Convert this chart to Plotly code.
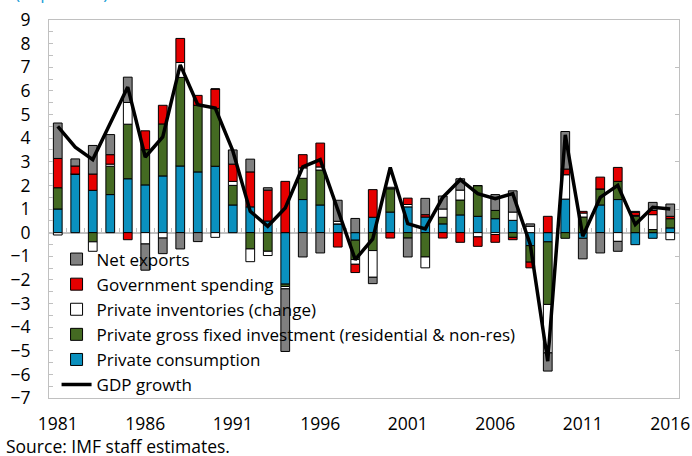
import plotly.graph_objects as go

years = list(range(1981, 2017))

private_consumption = [1.0, 2.48, 1.79, 1.61, 2.28, 2.02, 2.40, 2.82, 2.57, 2.81, 1.17, 1.09, 0.49, -2.18, 1.40, 1.17, 0.37, -0.32,
                       0.65, 0.87, 1.09, 0.66, 0.37, 0.75, 0.69, 0.59, 0.52, -0.55, -0.39, 1.42, -0.24, 1.17, 1.40, -0.51, -0.24, 0.20]
fixed_investment = [0.9, 0.0, -0.39, 1.2, 2.31, 1.49, 2.2, 3.75, 2.82, 2.45, 0.83, -0.69, -0.79, -0.1, 0.9, 1.48, 0.0, -0.82,
                    -0.76, 0.99, -0.23, -1.03, 0.28, 0.63, 1.3, 0.35, -0.2, -0.7, -2.65, -0.24, 0.66, 0.68, 0.77, 0.69, 0.13, 0.39]
inventories = [-0.1, 0.0, -0.4, 0.09, 0.92, -0.48, -0.23, 0.63, 0.0, -0.2, 0.17, -0.54, -0.18, -0.1, 0.44, 0.13, 0.11, -0.2,
               -1.13, 0.0, 0.1, -0.46, 0.35, 0.42, -0.18, -0.08, 0.35, 0.27, -2.05, 1.03, 0.17, 0.0, -0.37, 0.04, 0.63, -0.3]
government = [1.24, 0.34, 0.69, 0.4, -0.3, 0.8, 0.79, 1.02, 0.42, 0.82, 0.73, 1.48, 1.31, 2.17, 0.56, 1.01, -0.61, -0.35,
              1.17, -0.23, 0.27, 0.1, -0.23, -0.41, -0.4, -0.33, -0.1, -0.24, 0.69, 0.24, 0.07, 0.5, 0.59, 0.13, 0.18, 0.1]
net_exports = [1.5, 0.3, 1.21, 0.85, 1.07, -1.11, -0.66, -0.69, -0.38, 0.0, 0.6, 0.54, 0.1, -2.65, -1.03, -0.86, 0.89, 0.6,
               -0.27, 0.06, -0.8, 0.69, 0.55, 0.48, 0.0, 0.67, 0.9, 0.1, -0.77, 1.59, -0.87, -0.86, -0.42, 0.04, 0.34, 0.52]
gdp_growth = [4.5, 3.62, 3.09, 4.6, 6.16, 3.2, 4.05, 7.1, 5.41, 5.27, 3.47, 0.9, 0.27, 1.04, 2.78, 3.09, 0.95, -1.14,
              -0.27, 2.76, 0.38, 0.16, 1.49, 2.24, 1.65, 1.44, 1.65, -0.5, -5.44, 4.14, -0.15, 1.49, 2.0, 0.34, 1.07, 1.0]

year_labels = [1981, 1986, 1991, 1996, 2001, 2006, 2011, 2016]

font = "Open Sans"
axis_grey = "#c0c0c0"

fig = go.Figure()
components = [
    ("Private consumption", private_consumption, "#0a90be", 5),
    ("Private gross fixed investment (residential & non-res)", fixed_investment, "#446a22", 4),
    ("Private inventories (change)", inventories, "#ffffff", 3),
    ("Government spending", government, "#e60000", 2),
    ("Net exports", net_exports, "#808080", 1),
]
for name, vals, color, rank in components:
    fig.add_trace(go.Bar(x=years, y=vals, name=name, marker=dict(color=color, line=dict(color="black", width=1)),
                         width=0.5, legendrank=rank))
fig.add_trace(go.Scatter(x=years, y=gdp_growth, mode="lines", name="GDP growth", line=dict(color="black", width=3.5),
                         legendrank=6))
# invisible helper trace so the zero-line axis and right tick axis get drawn
fig.add_trace(go.Scatter(x=years, y=gdp_growth, xaxis="x2", yaxis="y2", mode="lines", line=dict(width=0),
                         showlegend=False, hoverinfo="skip"))

fig.update_layout(
    width=692, height=456,
    margin=dict(l=49, r=13, t=20, b=58),
    barmode="relative",
    plot_bgcolor="white", paper_bgcolor="white",
    font=dict(family=font, size=17.5, color="black"),
    showlegend=True,
    legend=dict(x=0.012, y=0.414, xanchor="left", yanchor="top", bgcolor="rgba(0,0,0,0)",
                font=dict(size=17), tracegroupgap=0, itemwidth=30),
    xaxis=dict(range=[1980.5, 2016.5], tickvals=year_labels, ticks="", showline=True, linecolor=axis_grey,
               mirror=True, showgrid=False, zeroline=False, ticklabelstandoff=10, automargin=False),
    xaxis2=dict(overlaying="x", matches="x", anchor="free", position=7 / 16, side="bottom",
                tickvals=[y - 0.5 for y in years] + [2016.5], ticks="inside", ticklen=4, tickcolor=axis_grey,
                showline=True, linecolor=axis_grey, linewidth=1.5, showticklabels=False, showgrid=False,
                zeroline=False, layer="below traces", automargin=False),
    yaxis=dict(range=[-7, 9], dtick=1, ticks="inside", ticklen=4, tickcolor=axis_grey, showline=True,
               linecolor=axis_grey, mirror=True, showgrid=False, zeroline=False, ticklabelstandoff=14,
               automargin=False, minor=dict(dtick=0.5, ticks="inside", ticklen=4, tickcolor=axis_grey)),
    yaxis2=dict(overlaying="y", matches="y", side="right", tickvals=[-5, -3, -1, 1, 3, 5, 7], ticks="inside",
                ticklen=4, tickcolor=axis_grey, showticklabels=False, showgrid=False, zeroline=False,
                showline=False, automargin=False),
    annotations=[
        dict(text="(In percent)", xref="paper", yref="paper", x=-0.057, y=1.038, xanchor="left", yanchor="bottom",
             showarrow=False, font=dict(color="#1fa0d8", size=17.5)),
        dict(text="Source: IMF staff estimates.", xref="paper", yref="paper", x=-0.072, y=-0.127, xanchor="left",
             yanchor="middle", showarrow=False, font=dict(size=17.5)),
    ],
)

fig.write_html("out.html", config={"displayModeBar": False}, post_script="document.body.style.margin='0';")
